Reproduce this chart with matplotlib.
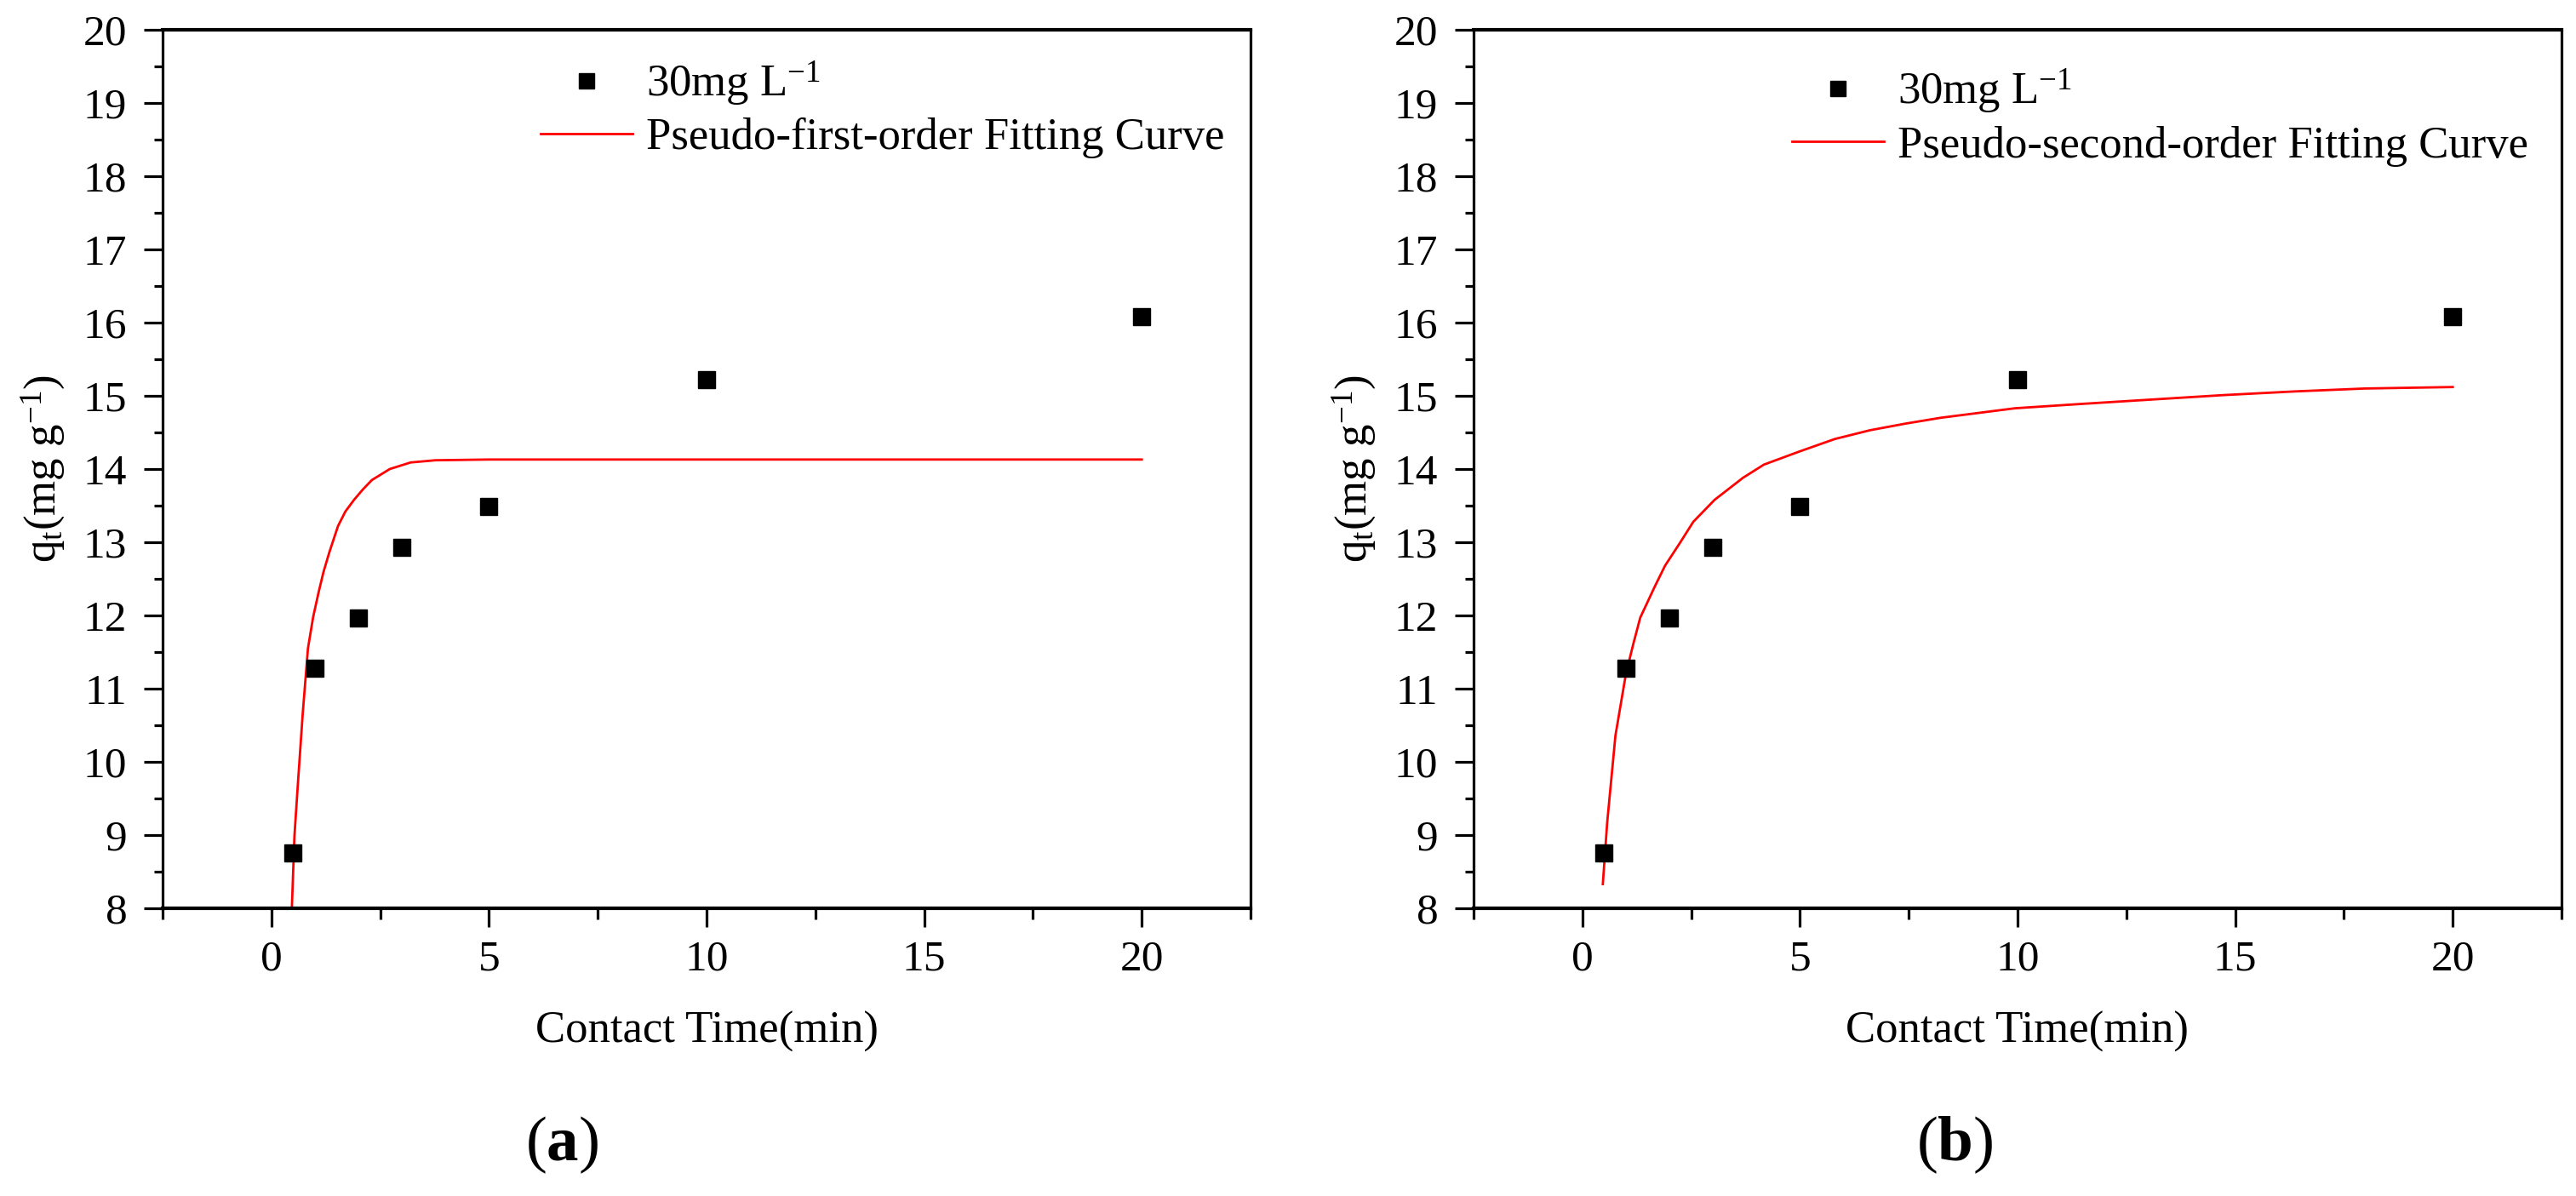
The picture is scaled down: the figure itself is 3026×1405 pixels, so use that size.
import numpy as np
import matplotlib
matplotlib.use('Agg')
import matplotlib.pyplot as plt
from matplotlib.ticker import MultipleLocator

plt.rcParams['font.family'] = ['Liberation Serif', 'DejaVu Serif']
plt.rcParams['mathtext.fontset'] = 'custom'
plt.rcParams['mathtext.rm'] = 'Liberation Serif'
plt.rcParams['mathtext.it'] = 'Liberation Serif:italic'
plt.rcParams['mathtext.bf'] = 'Liberation Serif:bold'

# measured points (same in both panels)
time_min = [0.5, 1, 2, 3, 5, 10, 20]
qt = [8.75, 11.28, 11.97, 12.93, 13.49, 15.22, 16.08]

# pseudo-first-order curve
pfo_t = [0.47, 0.53, 0.61, 0.72, 0.84, 0.96, 1.09, 1.2, 1.33, 1.53, 1.7, 1.9, 2.1, 2.31, 2.72,
         3.2, 3.77, 5, 10, 15, 20]
pfo_q = [8.0, 8.99, 9.71, 10.66, 11.55, 11.98, 12.33, 12.6, 12.86, 13.22, 13.42, 13.58, 13.72,
         13.85, 14.0, 14.09, 14.12, 14.13, 14.13, 14.13, 14.13]

# pseudo-second-order curve
pso_t = [0.47, 0.57, 0.76, 1.0, 1.17, 1.33, 1.66, 1.9, 2.23, 2.55, 3.04, 3.69, 4.17, 4.99, 5.8,
         6.61, 7.42, 8.23, 9.94, 11.48, 13.1, 14.73, 16.36, 17.98, 20]
pso_q = [8.33, 9.17, 10.36, 11.2, 11.61, 11.97, 12.39, 12.68, 12.98, 13.28, 13.58, 13.88, 14.06,
         14.24, 14.41, 14.53, 14.62, 14.7, 14.83, 14.89, 14.95, 15.01, 15.06, 15.1, 15.12]

data_label = '30mg L$^{-1}$'
fit_labels = ['Pseudo-first-order Fitting Curve', 'Pseudo-second-order Fitting Curve']
panel_tags = ['a', 'b']

fs = 37
fs_txt = 38
fig = plt.figure(figsize=(30.26, 14.05), dpi=100)
ax_a = fig.add_axes([0.06312, 0.24057, 0.42234, 0.73452])
ax_b = fig.add_axes([0.57204, 0.24057, 0.42234, 0.73452])

curves = [(pfo_t, pfo_q), (pso_t, pso_q)]
leg_x = [0.335, 0.28]
leg_y = [0.982, 0.973]
tag_x = [660 / 3026, 2296 / 3026]

for i, ax in enumerate([ax_a, ax_b]):
    ax.plot(time_min, qt, 's', color='black', ms=15, label=data_label, zorder=3)
    ax.plot(curves[i][0], curves[i][1], '-', color='red', lw=2, label=fit_labels[i])
    ax.set_xlim(-2.5, 22.5)
    ax.set_ylim(8, 20)
    ax.xaxis.set_major_locator(MultipleLocator(5))
    ax.xaxis.set_minor_locator(MultipleLocator(2.5))
    ax.yaxis.set_major_locator(MultipleLocator(1))
    ax.yaxis.set_minor_locator(MultipleLocator(0.5))
    ax.tick_params(which='both', direction='out', width=2.3, labelsize=fs, top=False, right=False)
    ax.tick_params(axis='x', which='major', length=16, pad=11)
    ax.tick_params(axis='x', which='minor', length=9)
    ax.tick_params(axis='y', which='major', length=16, pad=14)
    ax.tick_params(axis='y', which='minor', length=7)
    for s in ['top', 'bottom']:
        ax.spines[s].set_linewidth(3)
    for s in ['left', 'right']:
        ax.spines[s].set_linewidth(2.3)
    ax.set_xlabel('Contact Time(min)', fontsize=fs_txt)
    ax.xaxis.set_label_coords(0.5, -0.117)
    ax.xaxis.label.set_va('top')
    ax.set_ylabel(r'q$_\mathrm{t}$(mg g$^{-1}$)', fontsize=fs_txt)
    ax.yaxis.set_label_coords(-0.088, 0.5)
    ax.legend(loc='upper left', bbox_to_anchor=(leg_x[i], leg_y[i]), frameon=False,
              fontsize=fs_txt, handlelength=2.05, handletextpad=0.3, labelspacing=0.22,
              borderpad=0.3, borderaxespad=0, markerscale=0.9)
    fig.text(tag_x[i], 1 - 1345 / 1405, '(' + r'$\mathbf{' + panel_tags[i] + '}$' + ')',
             fontsize=54, ha='center', va='center')

fig.savefig('out.png', dpi=100)
